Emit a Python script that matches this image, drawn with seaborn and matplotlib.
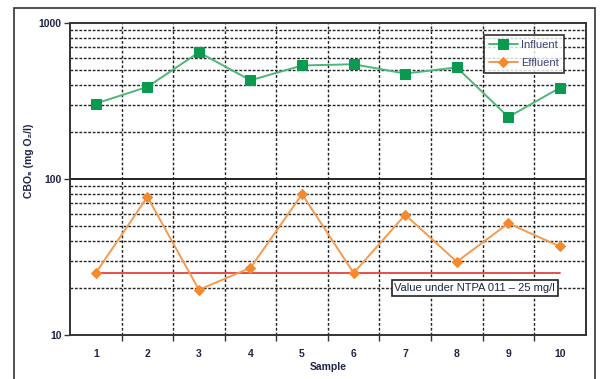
import numpy as np
import pandas as pd
import matplotlib
matplotlib.use("Agg")
import matplotlib.pyplot as plt
import matplotlib.patches as mpatches
from matplotlib.ticker import FixedLocator, NullFormatter
import seaborn as sns

# ── Data ──
samples = list(range(1, 11))
influent = [305, 390, 650, 430, 535, 545, 475, 520, 250, 385]
effluent = [25, 77, 19.5, 27, 80, 25, 59, 29.5, 52, 37]
limit_value = 25
limit_label = "Value under NTPA 011 – 25 mg/l"

df = pd.DataFrame({
    "Sample": samples * 2,
    "value": influent + effluent,
    "series": ["Influent"] * len(samples) + ["Effluent"] * len(samples),
})

sns.set_style("white")
plt.rcParams['font.family'] = ['Liberation Sans', 'DejaVu Sans']
txt = '#1e2448'

fig = plt.figure(figsize=(6.01, 3.79), dpi=100)
ax = fig.add_axes([0.1165, 0.116, 0.858, 0.823])

# outer chart frame
fig.patches.append(mpatches.Rectangle((14 / 601, -0.02), 581 / 601, 1.0, transform=fig.transFigure,
                                      fill=False, edgecolor='#333333', linewidth=1.2))

palette = {"Influent": "#0a9a4f", "Effluent": "#f5892e"}
line_cols = {"Influent": "#4db678", "Effluent": "#f59a4e"}
for name, mk, ms in [("Influent", "s", 7), ("Effluent", "D", 5)]:
    sub = df[df["series"] == name]
    sns.lineplot(data=sub, x="Sample", y="value", ax=ax, color=line_cols[name],
                 marker=mk, markersize=ms, markerfacecolor=palette[name],
                 markeredgecolor=palette[name], linewidth=1.4, label=name, zorder=4)

ax.plot([samples[0], samples[-1]], [limit_value, limit_value], color='#e8403a', linewidth=1.3, zorder=3)

ax.set_yscale('log')
ax.set_ylim(10, 1000)
ax.set_xlim(0.5, 10.5)

# x: labels at sample centres, ticks/grid at boundaries
ax.set_xticks(samples)
ax.set_xticklabels([str(s) for s in samples])
ax.xaxis.set_minor_locator(FixedLocator(np.arange(1.5, 10.5, 1.0)))
ax.tick_params(axis='x', which='major', length=0, pad=10)
ax.tick_params(axis='x', which='minor', length=4, width=1, color='#333333', direction='out', bottom=True)
ax.xaxis.grid(True, which='minor', color='#222222', linestyle=(0, (2, 1.5)), linewidth=1)

# y: decades with ticks, dotted minor grid
ax.set_yticks([10, 100, 1000])
ax.set_yticklabels(["10", "100", "1000"])
minor = [m * d for d in (10, 100) for m in range(2, 10)]
ax.yaxis.set_minor_locator(FixedLocator(minor))
ax.yaxis.set_minor_formatter(NullFormatter())
ax.tick_params(axis='y', which='major', length=4, width=1, color='#333333', direction='out', left=True, pad=2)
ax.tick_params(axis='y', which='minor', length=0)
ax.yaxis.grid(True, which='minor', color='#222222', linestyle=(0, (2, 1.2)), linewidth=1)
ax.axhline(100, color='#222222', linewidth=1.4, zorder=2)

for lab in ax.get_xticklabels() + ax.get_yticklabels():
    lab.set_fontsize(7.5)
    lab.set_fontweight('bold')
    lab.set_color(txt)

for sp in ax.spines.values():
    sp.set_color('#333333')
    sp.set_linewidth(1.4)

ax.set_xlabel("Sample", fontsize=7.5, fontweight='bold', color=txt, labelpad=2)
ax.set_ylabel("CBO₅ (mg O₂/l)", fontsize=7.5, fontweight='bold', color=txt)
ax.yaxis.set_label_coords(-0.07, 0.558)

ax.text(8.35, 20, limit_label, fontsize=8, color=txt, ha='center', va='center', zorder=5,
        bbox=dict(boxstyle='square,pad=0.25', facecolor='white', edgecolor='#222222', linewidth=1.2))

leg = ax.legend(loc='upper right', bbox_to_anchor=(0.968, 0.98), fontsize=8, frameon=True,
                fancybox=False, shadow=False, handlelength=2.6, borderpad=0.45, labelspacing=0.75,
                handletextpad=0.3)
leg.get_frame().set_edgecolor('#222222')
leg.get_frame().set_linewidth(1.4)
for t in leg.get_texts():
    t.set_color('#3a3f7a')

fig.savefig("out.png", dpi=100)
